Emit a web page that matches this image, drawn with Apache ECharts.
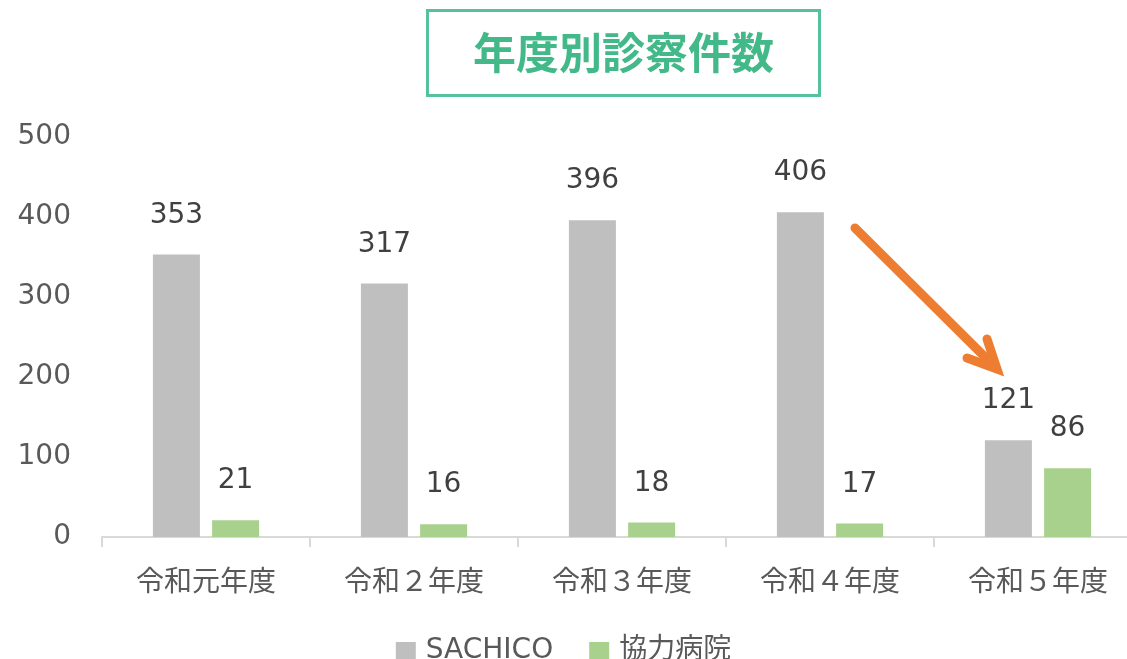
<!DOCTYPE html>
<html>
<head>
<meta charset="utf-8">
<script src="https://cdn.jsdelivr.net/npm/echarts@6/dist/echarts.min.js"></script>
<style>
	html, body { margin: 0; padding: 0; background: #fff; }
	#chart { width: 1127px; height: 659px; }
</style>
</head>
<body>
<div id="chart"></div>
<script>
var categories = ['令和元年度', '令和２年度', '令和３年度', '令和４年度', '令和５年度'];
var sachico = [353, 317, 396, 406, 121];
var kyoryoku = [21, 16, 18, 17, 86];
var yTicks = { min: 0, max: 500, interval: 100 };

var FONT = '"DejaVu Sans", "Noto Sans CJK JP", sans-serif';
var grayColor = '#BFBFBF';
var greenColor = '#A9D18E';
var arrowColor = '#ED7D31';

var myChart = echarts.init(document.getElementById('chart'));

var labelStyle = {
	show: true,
	position: 'top',
	distance: 25,
	color: '#404040',
	fontSize: 28,
	fontFamily: FONT
};

var option = {
	animation: false,
	title: {
		text: '年度別診察件数',
		left: 427,
		top: 11,
		padding: [21, 46],
		borderColor: '#55C29B',
		borderWidth: 3,
		textStyle: {
			color: '#43B98A',
			fontSize: 43,
			fontWeight: 'bold',
			lineHeight: 42,
			fontFamily: '"Noto Sans CJK JP", sans-serif'
		}
	},
	legend: {
		top: 632,
		left: 'center',
		itemWidth: 20,
		itemHeight: 18,
		itemGap: 36,
		icon: 'rect',
		textStyle: { color: '#595959', fontSize: 28, fontFamily: FONT, padding: [0, 0, 0, 5] },
		data: ['SACHICO', '協力病院']
	},
	grid: {
		left: 102,
		top: 137,
		width: 1040,
		height: 400,
		containLabel: false,
		outerBoundsMode: 'none'
	},
	xAxis: {
		type: 'category',
		data: categories,
		axisLine: { lineStyle: { color: '#D9D9D9', width: 2 } },
		axisTick: { show: true, length: 10, lineStyle: { color: '#D9D9D9', width: 2 } },
		axisLabel: { color: '#595959', fontSize: 28, margin: 29, fontFamily: '"Noto Sans CJK JP", sans-serif' }
	},
	yAxis: {
		type: 'value',
		min: yTicks.min,
		max: yTicks.max,
		interval: yTicks.interval,
		splitLine: { show: false },
		axisLine: { show: false },
		axisTick: { show: false },
		axisLabel: { color: '#595959', fontSize: 28, margin: 31, fontFamily: FONT }
	},
	series: [{
		name: 'SACHICO',
		type: 'bar',
		data: sachico,
		barWidth: 47,
		barGap: '26%',
		itemStyle: { color: grayColor },
		label: labelStyle
	}, {
		name: '協力病院',
		type: 'bar',
		data: kyoryoku,
		barWidth: 47,
		itemStyle: { color: greenColor },
		label: labelStyle
	}],
	graphic: [{
		type: 'line',
		shape: { x1: 855, y1: 228, x2: 994, y2: 366 },
		style: { stroke: arrowColor, lineWidth: 9, lineCap: 'round' }
	}, {
		type: 'polyline',
		shape: { points: [[987, 339], [997, 369], [967, 358]] },
		style: { stroke: arrowColor, lineWidth: 9, lineCap: 'round', lineJoin: 'miter', fill: null }
	}]
};

myChart.setOption(option);
</script>
</body>
</html>
